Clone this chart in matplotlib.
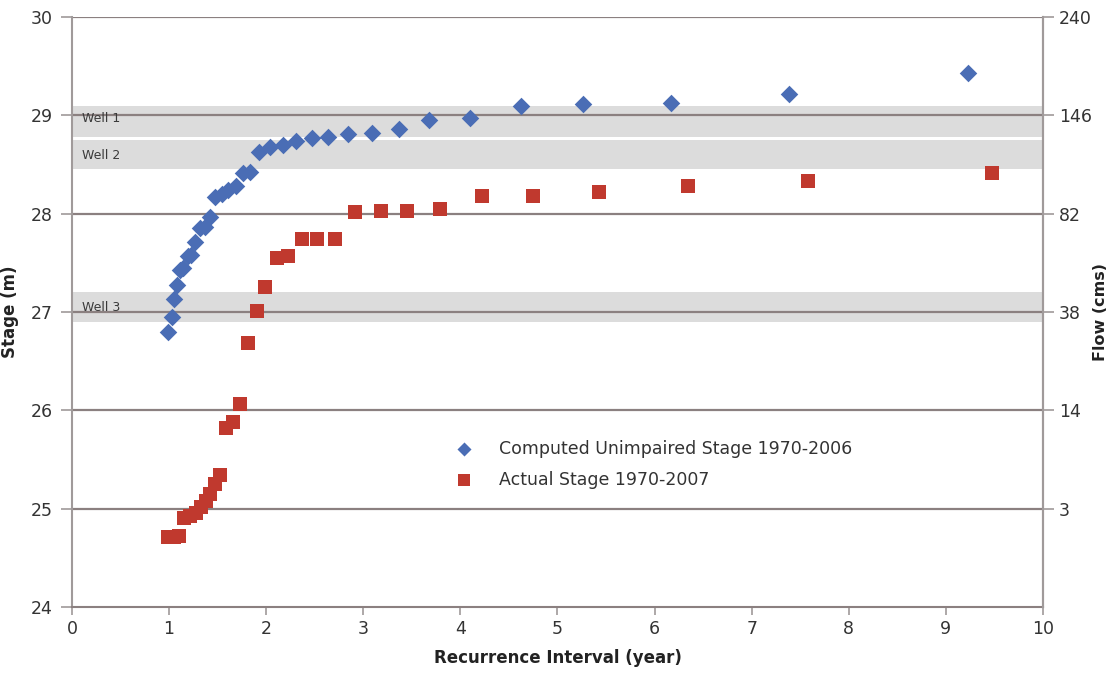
import numpy as np
import matplotlib
matplotlib.use("Agg")
import matplotlib.pyplot as plt

# recurrence interval (year) and stage (m)
unimpaired_x = [0.99, 1.03, 1.05, 1.08, 1.11, 1.14, 1.19, 1.23, 1.27, 1.32, 1.37, 1.42,
                1.47, 1.54, 1.61, 1.69, 1.76, 1.83, 1.93, 2.04, 2.17, 2.31, 2.47, 2.64,
                2.84, 3.09, 3.37, 3.68, 4.10, 4.62, 5.26, 6.17, 7.38, 9.23]
unimpaired_y = [26.80, 26.95, 27.13, 27.27, 27.43, 27.45, 27.57, 27.58, 27.71, 27.85, 27.86, 27.97,
                28.17, 28.20, 28.24, 28.28, 28.41, 28.42, 28.63, 28.68, 28.70, 28.74, 28.77, 28.78,
                28.81, 28.82, 28.86, 28.95, 28.97, 29.09, 29.12, 29.13, 29.22, 29.43]

actual_x = [0.99, 1.05, 1.10, 1.15, 1.22, 1.28, 1.33, 1.38, 1.42, 1.47, 1.52, 1.59,
            1.66, 1.73, 1.81, 1.91, 1.99, 2.11, 2.22, 2.37, 2.52, 2.71, 2.91, 3.18,
            3.45, 3.79, 4.22, 4.75, 5.43, 6.34, 7.58, 9.48]
actual_y = [24.71, 24.71, 24.72, 24.91, 24.93, 24.96, 25.02, 25.08, 25.15, 25.25, 25.34, 25.82,
            25.88, 26.06, 26.68, 27.01, 27.25, 27.55, 27.57, 27.74, 27.74, 27.74, 28.02, 28.03,
            28.03, 28.05, 28.18, 28.18, 28.22, 28.28, 28.33, 28.41]

# well screen bands (stage range) and labels
wells = ["Well 1", "Well 2", "Well 3"]
well_lo = [28.78, 28.45, 26.90]
well_hi = [29.09, 28.75, 27.20]
well_label_y = [28.97, 28.59, 27.05]

stage_ticks = [24, 25, 26, 27, 28, 29, 30]
flow_ticks = [25, 26, 27, 28, 29, 30]
flow_labels = ["3", "14", "38", "82", "146", "240"]

grid_col = "#8b8080"
spine_col = "#a09a9a"
text_col = "#333333"

fig = plt.figure(figsize=(11.08, 6.75), dpi=100)
ax = fig.add_axes([0.065, 0.1007, 0.8763, 0.8741])

for lo, hi in zip(well_lo, well_hi):
    ax.axhspan(lo, hi, color="#dcdcdc", zorder=0, lw=0)
for s in stage_ticks[1:]:
    ax.axhline(s, color=grid_col, lw=1.6, zorder=1)
for name, y in zip(wells, well_label_y):
    ax.text(0.1, y, name, fontsize=9, color="#3a3a3a", va="center", zorder=2)

ax.scatter(unimpaired_x, unimpaired_y, marker="D", s=80, color="#4a6db5",
           lw=0, zorder=3, label="Computed Unimpaired Stage 1970-2006")
ax.scatter(actual_x, actual_y, marker="s", s=110, color="#c0392e",
           lw=0, zorder=3, label="Actual Stage 1970-2007")

ax.set_xlim(0, 10)
ax.set_ylim(24, 30)
ax.set_xticks(range(0, 11))
ax.set_yticks(stage_ticks)
ax.tick_params(axis="both", colors=spine_col, labelcolor=text_col, labelsize=12.5,
               length=6, width=1.2)
ax.tick_params(axis="y", length=8, pad=6)
ax.spines["top"].set_visible(False)
for side in ["left", "bottom", "right"]:
    ax.spines[side].set_color(spine_col)
    ax.spines[side].set_linewidth(1.5)
ax.spines["bottom"].set_color(grid_col)

ax2 = ax.twinx()
ax2.set_ylim(24, 30)
ax2.set_yticks(flow_ticks)
ax2.set_yticklabels(flow_labels)
ax2.tick_params(axis="y", colors=spine_col, labelcolor=text_col, labelsize=12.5,
                length=8, width=1.2)
for side in ["top", "left", "bottom"]:
    ax2.spines[side].set_visible(False)
ax2.spines["right"].set_color(spine_col)
ax2.spines["right"].set_linewidth(1.5)

lab_font = dict(fontsize=12, fontweight="bold", color="#222222")
ax.set_xlabel("Recurrence Interval (year)", labelpad=8, **lab_font)
ax.set_ylabel("Stage (m)", labelpad=8, **lab_font)
ax2.set_ylabel("Flow (cms)", labelpad=1, fontsize=11.5, fontweight="bold", color="#222222")

leg = ax.legend(loc="upper left", bbox_to_anchor=(0.37, 0.31), frameon=False,
                fontsize=12.5, labelcolor=text_col, handletextpad=1.0,
                labelspacing=0.75, markerscale=0.8)

fig.savefig("out.png", dpi=100)
